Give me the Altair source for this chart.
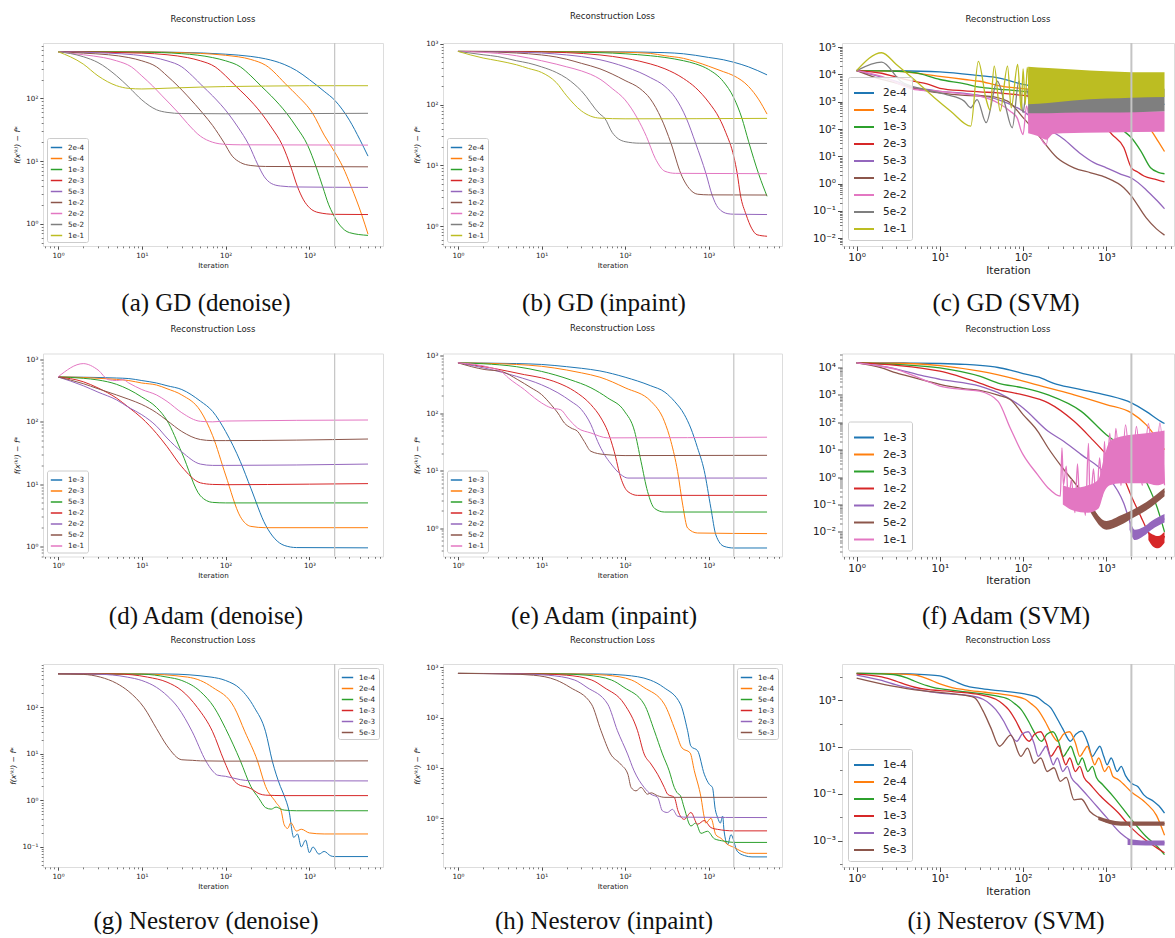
import altair as alt
import pandas as pd

TAB10 = ["#1f77b4", "#ff7f0e", "#2ca02c", "#d62728", "#9467bd",
         "#8c564b", "#e377c2", "#7f7f7f", "#bcbd22", "#17becf"]

TITLE = "Reconstruction Loss"
X_LABEL = "Iteration"
Y_LABEL = "f(x⁽ᵏ⁾) − f*"
CAPTIONS = ["(a) GD (denoise)", "(b) GD (inpaint)", "(c) GD (SVM)",
            "(d) Adam (denoise)", "(e) Adam (inpaint)", "(f) Adam (SVM)",
            "(g) Nesterov (denoise)", "(h) Nesterov (inpaint)", "(i) Nesterov (SVM)"]
MARKER_ITER = [2000]
X_MAJOR = [1, 10, 100, 1000]
MINOR_MULTS = [2, 3, 4, 5, 6, 7, 8, 9]

# ---------------- (a) GD denoise ----------------
A_DATA = {
    "2e-4": [(1, 560), (10, 555), (30, 545), (100, 510), (200, 470), (300, 430), (500, 350), (700, 280),
             (1000, 200), (1500, 130), (2000, 94), (3000, 45), (4000, 22), (5000, 12)],
    "5e-4": [(1, 560), (10, 555), (30, 540), (50, 525), (100, 490), (200, 420), (300, 340), (550, 158),
             (700, 115), (1100, 57), (1500, 26), (2000, 14), (2500, 8.1), (3150, 3.9), (4200, 1.4), (5000, 0.68)],
    "1e-3": [(1, 560), (10, 550), (30, 520), (70, 450), (100, 400), (150, 320), (200, 230), (265, 158),
             (350, 110), (540, 57), (700, 35), (950, 18), (1200, 8.1), (1440, 3.9), (1700, 2.0), (1900, 1.45),
             (2300, 0.95), (3000, 0.72), (5000, 0.65)],
    "2e-3": [(1, 560), (10, 530), (20, 500), (35, 450), (50, 400), (75, 320), (100, 230), (132, 158),
             (175, 110), (270, 57), (350, 35), (475, 18), (600, 8.1), (720, 3.9), (850, 2.4), (1000, 1.8),
             (1300, 1.5), (2000, 1.41), (5000, 1.4)],
    "5e-3": [(1, 560), (4, 530), (8, 500), (14, 450), (20, 400), (30, 320), (40, 230), (53, 158), (70, 110),
             (108, 57), (140, 35), (190, 18), (240, 9), (290, 5.6), (350, 4.4), (450, 4.0), (700, 3.86), (5000, 3.8)],
    "1e-2": [(1, 560), (2, 530), (4, 500), (7, 450), (10, 400), (15, 320), (20, 230), (27, 158), (35, 110),
             (54, 57), (70, 37), (95, 20), (120, 12), (150, 9.5), (200, 8.5), (300, 8.2), (5000, 8.1)],
    "2e-2": [(1, 560), (2, 500), (3.5, 450), (5, 400), (7.5, 320), (10, 230), (13.5, 158), (17.5, 110),
             (27, 60), (35, 40), (50, 25), (70, 20), (100, 18.5), (150, 18.2), (5000, 18)],
    "5e-2": [(1, 560), (2, 465), (3, 375), (5, 230), (7, 152), (10, 95), (15, 66), (20, 60), (30, 57.5),
             (100, 57), (5000, 58)],
    "1e-1": [(1, 560), (2, 355), (3, 230), (5, 160), (7, 145), (10, 142), (20, 146), (50, 152), (100, 155),
             (300, 158), (1000, 160), (5000, 160)],
}

# ---------------- (b) GD inpaint ----------------
B_DATA = {
    "2e-4": [(1, 755), (10, 752), (100, 740), (300, 720), (500, 690), (700, 650), (1000, 600), (1500, 550),
             (2000, 500), (3000, 420), (5000, 310)],
    "5e-4": [(1, 755), (10, 752), (50, 740), (100, 730), (200, 700), (300, 640), (500, 580), (700, 510),
             (1000, 430), (1500, 350), (2000, 300), (3000, 200), (4000, 120), (5000, 70)],
    "1e-3": [(1, 755), (10, 745), (50, 720), (100, 690), (200, 640), (300, 600), (500, 530), (700, 470),
             (1000, 380), (1500, 240), (2000, 130), (2500, 60), (3000, 25), (4000, 7), (5000, 3.1)],
    "2e-3": [(1, 755), (5, 750), (10, 740), (20, 720), (50, 660), (100, 580), (150, 520), (200, 470),
             (300, 390), (500, 270), (700, 190), (1000, 110), (1350, 59), (1600, 35), (2000, 14), (2200, 7.3),
             (2400, 3.25), (2800, 1.56), (3300, 0.9), (3800, 0.72), (5000, 0.68)],
    "5e-3": [(1, 755), (2, 750), (5, 735), (10, 710), (20, 660), (30, 620), (50, 550), (70, 490), (100, 420),
             (150, 340), (200, 280), (300, 200), (400, 130), (540, 60), (700, 23), (930, 7.3), (1100, 3.25),
             (1300, 2.0), (1700, 1.6), (2000, 1.57), (5000, 1.55)],
    "1e-2": [(1, 755), (2, 745), (3, 735), (5, 710), (7, 690), (10, 660), (15, 610), (20, 560), (30, 480),
             (50, 390), (70, 320), (100, 250), (150, 185), (200, 125), (270, 60), (355, 23), (465, 7.3),
             (600, 4.0), (740, 3.35), (1000, 3.27), (5000, 3.25)],
    "2e-2": [(1, 755), (2, 728), (3, 700), (5, 640), (7, 587), (10, 530), (15, 466), (20, 420), (30, 360),
             (50, 264), (70, 185), (100, 120), (140, 60), (180, 30), (230, 13), (300, 8), (400, 7.4), (5000, 7.3)],
    "5e-2": [(1, 755), (2, 665), (3, 620), (5, 530), (7, 484), (10, 420), (15, 340), (20, 272), (30, 169),
             (50, 70), (57, 60), (70, 35), (100, 24.6), (150, 23.2), (5000, 23)],
    "1e-1": [(1, 755), (2, 587), (3, 530), (5, 455), (7, 395), (10, 340), (15, 232), (20, 140), (30, 79),
             (50, 60), (100, 58.5), (5000, 59.5)],
}

# ---------------- (c) GD SVM ----------------
C_DATA = {
    "2e-4": [(1, 13800), (3, 13600), (10, 12400), (30, 9000), (50, 7500), (100, 4300), (200, 3000),
             (500, 2300), (1000, 1800), (2000, 1300), (5000, 800)],
    "5e-4": [(1, 13800), (3, 13000), (10, 8500), (20, 6500), (30, 5600), (50, 3900), (100, 3000), (200, 2400),
             (500, 1500), (1000, 900), (2000, 350), (3000, 150), (3500, 84), (4200, 35), (5000, 15)],
    "1e-3": [(1, 13800), (2, 13500), (3, 13000), (5, 11500), (10, 6500), (20, 4500), (30, 3400), (50, 2900),
             (100, 2400), (200, 1800), (300, 1300), (500, 800), (1000, 300), (1620, 84), (2000, 48),
             (2600, 15.6), (3400, 3.8), (4200, 2.6), (5000, 2.3)],
    "2e-3": [(1, 13800), (2, 11000), (3, 8000), (5, 5500), (7, 4500), (10, 3100), (20, 2500), (30, 2300),
             (50, 2100), (100, 1700), (200, 1200), (300, 800), (500, 400), (810, 194), (1170, 63), (1620, 21),
             (2000, 3.8), (2400, 2.6), (2830, 1.9), (4000, 1.4), (5000, 1.15)],
    "5e-3": [(1, 13800), (2, 8000), (3, 5500), (5, 3200), (7, 2800), (10, 2400), (20, 2000), (30, 1700),
             (50, 1200), (100, 450), (150, 180), (200, 100), (300, 45), (500, 12), (700, 6), (1000, 3.8),
             (1500, 2.2), (2000, 1.6), (3000, 0.6), (4000, 0.25), (5000, 0.12)],
    "1e-2": [(1, 13800), (2, 6500), (3, 4800), (5, 3000), (7, 2500), (10, 2100), (20, 1700), (37, 1600),
             (65, 1050), (100, 260), (150, 63), (256, 8.9), (408, 3.8), (650, 2.5), (1000, 1.66),
             (1620, 0.71), (2000, 0.35), (3000, 0.057), (4000, 0.022), (5000, 0.013)],
    "2e-2": [(1, 13800), (2, 8500), (5, 2800), (10, 2400), (20, 1900), (30, 1600), (50, 900), (70, 450),
             (85, 250), (100, 63), (110, 700), (125, 90), (140, 600), (160, 60), (190, 27), (210, 500)],
    "5e-2": [(1, 13800), (2, 28000), (3.4, 5600), (6.5, 2800), (12, 1800), (19.6, 1050), (23.5, 600),
             (28, 1200), (36, 170), (49, 5600), (60, 900), (74, 111), (89, 5600), (100, 400), (110, 3000),
             (120, 500)],
    "1e-1": [(1, 13800), (2, 62000), (3, 23000), (4.9, 6500), (8.6, 1400), (13.5, 450), (23.5, 128),
             (29, 30000), (36, 1200), (40, 500), (45, 20000), (53, 450), (65, 20000), (72, 600), (86, 23000),
             (95, 500), (100, 16000), (106, 800), (112, 18000), (120, 900)],
}
C_BANDS = {
    "2e-2": [(115, 70, 700), (150, 55, 650), (190, 40, 550), (230, 65, 500), (300, 70, 480), (1000, 75, 450),
             (5000, 80, 450)],
    "5e-2": [(115, 380, 4000), (200, 380, 3500), (500, 400, 3000), (1000, 400, 3000), (5000, 450, 3000)],
    "1e-1": [(115, 800, 19000), (200, 900, 17000), (400, 1100, 15000), (1000, 1300, 13000),
             (2000, 1400, 12000), (5000, 1500, 12000)],
}

# ---------------- (d) Adam denoise ----------------
D_DATA = {
    "1e-3": [(1, 525), (2, 520), (3, 515), (5, 505), (7, 495), (10, 460), (15, 420), (20, 380), (30, 330),
             (50, 215), (70, 147), (100, 70), (150, 23), (200, 8.6), (300, 2.2), (500, 1.04), (700, 0.96),
             (5000, 0.95)],
    "2e-3": [(1, 525), (2, 515), (3, 500), (5, 480), (7, 460), (10, 420), (15, 390), (20, 340), (30, 270),
             (50, 150), (70, 60), (100, 14), (150, 3.0), (200, 2.1), (300, 2.0), (5000, 2.0)],
    "5e-3": [(1, 525), (2, 500), (3, 470), (5, 400), (7, 330), (10, 250), (15, 170), (20, 105), (30, 32),
             (50, 6.5), (70, 5.1), (100, 5.0), (5000, 5.0)],
    "1e-2": [(1, 525), (2, 440), (3, 350), (5, 240), (7, 170), (10, 115), (15, 65), (20, 40), (30, 19),
             (50, 10.5), (70, 9.9), (100, 9.8), (1000, 10), (5000, 10.2)],
    "2e-2": [(1, 525), (2, 380), (3, 300), (5, 225), (7, 170), (10, 130), (15, 85), (20, 55), (30, 33),
             (50, 21), (70, 20), (100, 20), (5000, 21)],
    "5e-2": [(1, 525), (2, 410), (3, 340), (5, 270), (7, 230), (10, 190), (15, 140), (20, 105), (30, 70),
             (50, 52), (70, 50), (100, 50), (5000, 53)],
    "1e-1": [(1, 525), (2, 860), (3, 680), (4, 475), (5, 460), (6, 475), (7, 420), (10, 330), (15, 270),
             (20, 213), (30, 140), (50, 102), (70, 100), (100, 103), (5000, 107)],
}

# ---------------- (e) Adam inpaint ----------------
E_DATA = {
    "1e-3": [(1, 746), (2, 740), (5, 725), (10, 700), (20, 640), (30, 600), (50, 540), (100, 420), (200, 300),
             (300, 230), (390, 160), (512, 94), (610, 55), (735, 25), (885, 10), (1065, 2.2), (1220, 0.76),
             (1530, 0.48), (2000, 0.45), (5000, 0.45)],
    "2e-3": [(1, 746), (2, 735), (5, 700), (10, 650), (20, 560), (30, 500), (50, 420), (100, 275), (204, 160),
             (295, 72), (354, 32), (425, 9.7), (490, 2.5), (560, 1.0), (735, 0.82), (5000, 0.8)],
    "5e-3": [(1, 746), (2, 720), (5, 640), (10, 530), (22, 380), (39, 275), (62, 183), (98, 108), (130, 48),
             (155, 14.5), (186, 4.3), (225, 2.2), (295, 1.9), (5000, 1.9)],
    "1e-2": [(1, 746), (2.5, 610), (6.25, 465), (10, 410), (15.7, 335), (24.8, 240), (39, 140), (51.5, 82),
             (62, 48), (74, 21.6), (89, 7.4), (108, 4.3), (141, 3.7), (5000, 3.7)],
    "2e-2": [(1, 746), (2.5, 570), (5, 435), (10, 310), (15.7, 225), (22.5, 160), (30, 115), (39, 63),
             (47, 32), (56.5, 19), (68, 13), (89, 8.5), (108, 7.4), (5000, 7.4)],
    "5e-2": [(1, 746), (2.1, 570), (3.3, 530), (5.2, 380), (7.5, 275), (10, 210), (13, 140), (15.7, 100),
             (18.8, 67), (22.5, 55), (27, 48), (32.5, 32), (39, 21.6), (56.5, 19), (100, 18.2), (5000, 18.4)],
    "1e-1": [(1, 746), (2.5, 610), (3.3, 530), (4, 410), (6.25, 255), (8.25, 183), (10, 150), (13, 123),
             (17, 114), (20.6, 82), (27, 55), (39, 45), (62, 37), (5000, 38)],
}

# ---------------- (f) Adam SVM ----------------
F_DATA = {
    "1e-3": [(1, 14800), (5, 14500), (10, 14000), (20, 13000), (30, 12000), (50, 10000), (70, 8000),
             (100, 6000), (150, 4500), (256, 2400), (500, 1560), (1000, 980), (2000, 510), (3000, 250),
             (4500, 108), (5000, 90)],
    "2e-3": [(1, 14800), (3, 14300), (10, 11700), (30, 7300), (100, 3200), (200, 1800), (410, 1000),
             (1000, 440), (2000, 220), (3000, 82), (4000, 27), (5000, 10)],
    "5e-3": [(1, 14800), (3, 13000), (10, 9700), (30, 4800), (50, 2700), (100, 1800), (200, 1000), (500, 250),
             (1000, 35), (1620, 11.5), (2000, 6.6), (3000, 0.7), (4100, 0.074), (5000, 0.01)],
    "1e-2": [(1, 14800), (3, 12000), (10, 7300), (30, 2700), (50, 1560), (100, 1000), (200, 510), (410, 108),
             (650, 27), (1000, 6.6), (1620, 0.92), (2000, 0.2), (2600, 0.036), (3000, 0.014), (3500, 0.006),
             (4000, 0.004), (4500, 0.004), (5000, 0.007)],
    "2e-2": [(1, 14800), (2.6, 9700), (6.5, 4800), (10, 3700), (30, 2100), (50, 1200), (100, 335), (200, 47),
             (310, 20), (500, 6.6), (1000, 1.2), (1620, 0.11), (1950, 0.02), (2200, 0.008), (3000, 0.012),
             (5000, 0.03)],
    "5e-2": [(1, 14800), (2, 9700), (3, 6300), (5, 4200), (7, 3200), (10, 2400), (20, 1660), (30, 1450),
             (50, 980), (70, 680), (100, 190), (150, 47), (200, 11.5), (300, 2.1), (500, 0.3), (700, 0.064),
             (1000, 0.018), (1500, 0.027), (2000, 0.042), (3000, 0.085), (5000, 0.3)],
    "1e-1": [(1, 14800), (2, 11000), (3, 8500), (5, 4800), (7, 3200), (10, 2100), (20, 1560), (30, 1360),
             (50, 580), (70, 62), (100, 6.6), (150, 1.2), (200, 0.4), (280, 0.2), (293, 11.5), (305, 0.5),
             (330, 2.5), (350, 0.1), (380, 0.8), (420, 0.05), (450, 3), (480, 0.1), (520, 0.3), (560, 0.04),
             (610, 17), (640, 0.08), (700, 2), (760, 0.1), (830, 5), (900, 0.2), (950, 20), (1000, 0.5),
             (1100, 40), (1200, 0.6), (1300, 60), (1500, 0.5), (1700, 80), (2000, 0.6), (2300, 70),
             (2700, 0.5), (3200, 90), (3800, 0.6), (4400, 95), (5000, 0.5)],
}
F_BANDS = {
    "1e-2": [(3200, 0.005, 0.01), (3600, 0.003, 0.008), (4200, 0.0025, 0.007), (5000, 0.004, 0.01)],
    "2e-2": [(1900, 0.012, 0.03), (2200, 0.005, 0.012), (2800, 0.007, 0.015), (3500, 0.012, 0.025),
             (5000, 0.022, 0.045)],
    "5e-2": [(650, 0.05, 0.1), (1000, 0.012, 0.025), (1500, 0.018, 0.04), (2000, 0.03, 0.06),
             (3000, 0.06, 0.12), (5000, 0.2, 0.4)],
    "1e-1": [(300, 0.1, 0.5), (400, 0.06, 0.4), (600, 0.05, 0.5), (800, 0.07, 0.8), (950, 0.3, 6),
             (1100, 0.5, 20), (1500, 0.6, 30), (2000, 0.6, 35), (3000, 0.6, 40), (4000, 0.5, 45),
             (5000, 0.6, 50)],
}

# ---------------- (g) Nesterov denoise ----------------
G_DATA = {
    "1e-4": [(1, 530), (20, 525), (67, 450), (100, 380), (150, 250), (220, 100), (300, 30), (360, 7.1),
             (450, 2.0), (500, 1.27), (570, 0.6), (650, 0.16), (720, 0.19), (800, 0.1), (900, 0.14),
             (1000, 0.075), (1100, 0.1), (1300, 0.07), (1500, 0.08), (1800, 0.064), (2000, 0.062),
             (5000, 0.062)],
    "2e-4": [(1, 530), (10, 525), (35, 450), (50, 380), (70, 270), (127, 100), (170, 30), (240, 7.1),
             (300, 2.0), (400, 0.9), (460, 0.6), (500, 0.3), (550, 0.25), (600, 0.33), (700, 0.22),
             (800, 0.24), (1000, 0.2), (1500, 0.19), (5000, 0.19)],
    "5e-4": [(1, 530), (10, 520), (20, 450), (30, 380), (50, 220), (73, 100), (100, 35), (150, 7.1),
             (200, 2.0), (250, 1.1), (300, 0.7), (350, 0.65), (400, 0.72), (450, 0.66), (500, 0.62),
             (700, 0.6), (5000, 0.6)],
    "1e-3": [(1, 530), (5, 525), (11.7, 450), (20, 350), (30, 230), (46, 100), (70, 30), (96, 7.1),
             (120, 3.0), (150, 2.1), (170, 2.0), (200, 1.8), (250, 1.4), (300, 1.3), (500, 1.27), (5000, 1.27)],
    "2e-3": [(1, 530), (3, 520), (6.7, 450), (10, 380), (15, 270), (20, 180), (27, 100), (40, 30), (58, 7.1),
             (70, 4.3), (80, 3.5), (100, 3.3), (150, 2.8), (200, 2.65), (5000, 2.63)],
    "5e-3": [(1, 530), (2, 515), (3.2, 450), (5, 330), (7, 220), (10.6, 100), (15, 35), (20, 15), (30, 7.5),
             (40, 7.3), (50, 7.1), (100, 7.0), (5000, 7.1)],
}

# ---------------- (h) Nesterov inpaint ----------------
H_DATA = {
    "1e-4": [(1, 760), (50, 740), (100, 700), (200, 560), (290, 400), (460, 186), (560, 55), (614, 27),
             (738, 22), (887, 7.5), (1020, 4.7), (1110, 4.1), (1200, 1.5), (1281, 1.03), (1380, 0.8),
             (1470, 1.1), (1530, 0.56), (1690, 0.3), (1850, 0.47), (2200, 0.22), (2700, 0.18), (3300, 0.17),
             (5000, 0.17)],
    "2e-4": [(1, 760), (29, 740), (60, 700), (120, 560), (168, 400), (295, 186), (400, 55), (480, 25),
             (600, 20), (674, 8.8), (810, 2.6), (887, 1.03), (924, 0.8), (1066, 1.0), (1218, 0.47),
             (1400, 0.4), (1690, 0.3), (2040, 0.26), (2450, 0.22), (3000, 0.2), (5000, 0.2)],
    "5e-4": [(1, 760), (17, 740), (35, 700), (69, 560), (97, 400), (169, 186), (224, 55), (280, 19),
             (337, 8.8), (388, 4.1), (420, 3.2), (460, 2.8), (510, 1.6), (614, 0.7), (700, 0.8), (810, 0.5),
             (970, 0.55), (1170, 0.39), (1530, 0.35), (2000, 0.33), (5000, 0.33)],
    "1e-3": [(1, 760), (10, 740), (20, 700), (40, 560), (56, 400), (98, 186), (141, 55), (169, 19),
             (204, 12), (245, 7.5), (295, 4.1), (323, 3.0), (388, 2.6), (430, 1.4), (510, 0.95), (614, 1.3),
             (738, 0.76), (887, 0.9), (1066, 0.65), (1281, 0.6), (2000, 0.56), (5000, 0.56)],
    "2e-3": [(1, 760), (6, 740), (12, 700), (25, 560), (35, 400), (62, 186), (81, 55), (107, 19), (128, 8.8),
             (169, 4.1), (204, 3.0), (245, 2.6), (280, 1.4), (320, 1.3), (369, 1.5), (424, 1.1), (500, 1.05),
             (5000, 1.03)],
    "5e-3": [(1, 760), (4, 740), (8, 700), (15, 560), (22, 400), (39.6, 186), (51.5, 55), (67, 19), (88, 12),
             (108, 7.5), (118, 4.1), (135, 3.5), (155, 4.1), (186, 3.0), (205, 3.2), (245, 2.8), (300, 2.6),
             (5000, 2.6)],
}

# ---------------- (i) Nesterov SVM ----------------
I_DATA = {
    "1e-4": [(1, 14100), (3, 13800), (6.5, 12400), (10, 11000), (15, 6500), (20, 4200), (30, 3200),
             (50, 2600), (100, 1900), (150, 1300), (178, 800), (214, 480), (260, 150), (300, 60), (370, 17.7),
             (430, 35), (506, 48), (600, 15), (680, 4.0), (760, 7), (835, 10.8), (930, 4), (1023, 1.75),
             (1143, 3.4), (1350, 0.9), (1510, 1.5), (1700, 0.6), (2000, 0.28), (2400, 0.2), (2820, 0.09),
             (3740, 0.046), (4300, 0.03), (5000, 0.015)],
    "2e-4": [(1, 14100), (3, 13500), (5, 12000), (7, 8500), (10, 5000), (14, 3500), (20, 2800), (35, 2200),
             (70, 1600), (106, 1100), (126, 700), (150, 400), (185, 120), (210, 50), (262, 17.7), (305, 35),
             (360, 45), (425, 15), (480, 4.0), (540, 7), (590, 10.8), (660, 4), (725, 1.75), (810, 3.4),
             (955, 0.9), (1070, 1.5), (1200, 0.55), (1400, 0.4), (2000, 0.12), (3000, 0.04), (4000, 0.012),
             (5000, 0.0017)],
    "5e-4": [(1, 14100), (2, 13500), (3, 12000), (4, 9000), (5, 6500), (7, 4200), (9, 3300), (13, 2800),
             (22, 2200), (44, 1600), (67, 1100), (80, 700), (95, 400), (117, 120), (133, 50), (166, 17.7),
             (193, 35), (228, 45), (270, 15), (304, 4.0), (342, 7), (373, 10.8), (418, 4), (460, 1.75),
             (513, 3.4), (600, 0.9), (680, 1.5), (760, 0.5), (900, 0.25), (1200, 0.08), (2000, 0.008),
             (3000, 0.0015), (4000, 0.0006), (5000, 0.00025)],
    "1e-3": [(1, 13200), (2, 10000), (3, 6500), (4, 4500), (5, 3600), (7, 2900), (10, 2600), (15, 2300),
             (31, 1700), (47, 1100), (57, 700), (67, 400), (83, 120), (94, 50), (118, 17.7), (137, 35),
             (162, 45), (191, 15), (215, 4.0), (243, 7), (265, 10.8), (296, 4), (326, 1.75), (364, 3.4),
             (425, 0.9), (480, 1.5), (540, 0.5), (640, 0.25), (850, 0.08), (1400, 0.015), (2000, 0.0035),
             (3000, 0.001), (4000, 0.0005), (5000, 0.0003)],
    "2e-3": [(1, 12000), (2, 7000), (3, 4500), (5, 3000), (10, 2000), (22, 1600), (33, 1100), (40, 700),
             (47, 400), (59, 120), (67, 50), (84, 17.7), (97, 35), (115, 45), (135, 15), (152, 4.0), (172, 7),
             (188, 10.8), (210, 4), (230, 1.75), (258, 3.4), (300, 0.9), (340, 1.5), (380, 0.5), (450, 0.25),
             (600, 0.08), (1000, 0.01), (1500, 0.002), (2000, 0.001), (3000, 0.0008), (5000, 0.0008)],
    "5e-3": [(1, 8900), (2.6, 4150), (6.5, 2500), (16, 1800), (26, 1300), (33, 350), (41, 66), (52, 10.8),
             (71, 32), (94, 4.0), (113, 9), (136, 2), (163, 3.4), (195, 0.9), (235, 1.3), (280, 0.34),
             (330, 0.5), (410, 0.055), (500, 0.06), (640, 0.017), (840, 0.009), (1000, 0.0063),
             (1500, 0.0055), (5000, 0.0053)],
}
I_BANDS = {
    "2e-3": [(1800, 0.00065, 0.0012), (3000, 0.00062, 0.001), (5000, 0.00062, 0.001)],
    "5e-3": [(800, 0.0075, 0.011), (1500, 0.0043, 0.0066), (5000, 0.0043, 0.0066)],
}

PANELS = [
    dict(data=A_DATA, ydom=[0.44, 770], ymaj=[1, 10, 100], legend="bottom-left"),
    dict(data=B_DATA, ydom=[0.47, 1038], ymaj=[1, 10, 100, 1000], legend="bottom-left"),
    dict(data=C_DATA, bands=C_BANDS, ydom=[0.0052, 141000],
         ymaj=[0.01, 0.1, 1, 10, 100, 1000, 1e4, 1e5], big=True, legend="bottom-left"),
    dict(data=D_DATA, ydom=[0.69, 1250], ymaj=[1, 10, 100, 1000], legend="bottom-left"),
    dict(data=E_DATA, ydom=[0.32, 1085], ymaj=[1, 10, 100, 1000], legend="bottom-left"),
    dict(data=F_DATA, bands=F_BANDS, ydom=[0.00126, 32400],
         ymaj=[0.01, 0.1, 1, 10, 100, 1000, 1e4], big=True, legend="bottom-left"),
    dict(data=G_DATA, ydom=[0.037, 861], ymaj=[0.1, 1, 10, 100], legend="top-right"),
    dict(data=H_DATA, ydom=[0.107, 1170], ymaj=[1, 10, 100, 1000], legend="top-right"),
    dict(data=I_DATA, bands=I_BANDS, ydom=[0.0000741, 35500], ymaj=[0.001, 0.1, 10, 1000],
         yminor=[1e-4, 1e-2, 1, 100, 1e4], big=True, legend="bottom-left"),
]

SUPER = str.maketrans("0123456789-", "⁰¹²³⁴⁵⁶⁷⁸⁹⁻")


def exponent(v):
    e = 0
    while v >= 9.99:
        v /= 10.0
        e += 1
    while v < 0.999:
        v *= 10.0
        e -= 1
    return e


def decade_label_expr(values):
    expr = "''"
    for v in values:
        e = exponent(v)
        expr = "abs(log(datum.value)/LN10-(%d))<0.01 ? '10%s' : (%s)" % (e, str(e).translate(SUPER), expr)
    return expr


def minor_ticks(lo, hi):
    out = []
    for e in range(-6, 7):
        for m in MINOR_MULTS:
            v = m * (10.0 ** e)
            if lo <= v <= hi:
                out.append(v)
    return out


H = 203
CAP_Y = [260, 262, 257]
CAP_X = [163, 161, 164]


def make_panel(idx, p):
    row, col = idx // 3, idx % 3
    big = p.get("big", False)
    W = [340, 339, 332][col]
    xdom = [0.667, 6500] if big else [0.662, 7550]
    labels = list(p["data"].keys())
    cmap = dict(zip(labels, TAB10))
    recs = []
    for lab in labels:
        for x, y in p["data"][lab]:
            recs.append({"series": lab, "it": x, "loss": y})
    df = pd.DataFrame(recs)

    fs = 10.5 if big else 7.2
    tick = 4.5 if big else 3.2
    mtick = 2.5 if big else 1.8
    xs = alt.Scale(type="log", domain=xdom, nice=False)
    ys = alt.Scale(type="log", domain=p["ydom"], nice=False)

    common = dict(grid=False, domain=False, labelFlush=False, labelOverlap=False, labelFont="DejaVu Sans",
                  titleFont="DejaVu Sans", labelColor="#222", titleColor="#222", tickColor="#222",
                  tickWidth=0.8, titleFontWeight="normal")
    xaxis = alt.Axis(values=X_MAJOR, labelExpr=decade_label_expr(X_MAJOR), title=X_LABEL,
                     labelFontSize=fs, titleFontSize=fs, tickSize=tick, labelPadding=2,
                     titlePadding=3 if not big else 2, **common)
    if big:
        yaxis = alt.Axis(values=p["ymaj"], labelExpr=decade_label_expr(p["ymaj"]), title="",
                         labelFontSize=fs, tickSize=tick, labelPadding=2, **common)
    else:
        yaxis = alt.Axis(values=p["ymaj"], labelExpr=decade_label_expr(p["ymaj"]), title=Y_LABEL,
                         labelFontSize=fs, titleFontSize=7.6, titleFontStyle="italic", tickSize=tick,
                         labelPadding=2, titlePadding=4, **common)

    legend = alt.Legend(title=None, orient=p["legend"], offset=6 if big else 4,
                        fillColor="rgba(255,255,255,0.85)", strokeColor="#cccccc", cornerRadius=2,
                        padding=5 if big else 3, symbolType="stroke", symbolStrokeWidth=2 if big else 1.5,
                        symbolSize=400 if big else 130, labelFontSize=fs, labelFont="DejaVu Sans",
                        labelColor="#222", rowPadding=0 if big else 1, labelOffset=8 if big else 5,
                        labelLimit=0)

    layers = []
    lines = alt.Chart(df).mark_line(strokeWidth=1.3 if big else 1.0, interpolate="monotone", clip=True).encode(
        x=alt.X("it:Q", scale=xs, axis=xaxis),
        y=alt.Y("loss:Q", scale=ys, axis=yaxis),
        color=alt.Color("series:N", scale=alt.Scale(domain=labels, range=[cmap[l] for l in labels]),
                        legend=legend),
    )
    layers.append(lines)

    for lab, pts in p.get("bands", {}).items():
        bdf = pd.DataFrame(pts, columns=["it", "lo", "hi"])
        band = alt.Chart(bdf).mark_area(color=cmap[lab], opacity=1, interpolate="monotone", clip=True).encode(
            x=alt.X("it:Q", scale=xs, axis=None),
            y=alt.Y("lo:Q", scale=ys, axis=None),
            y2="hi:Q",
        )
        layers.append(band)

    xminor = minor_ticks(xdom[0], xdom[1])
    vline = alt.Chart(pd.DataFrame({"it": MARKER_ITER})).mark_rule(
        color="#c4c4c4", strokeWidth=2 if big else 1.2).encode(
        x=alt.X("it:Q", scale=xs, axis=alt.Axis(orient="bottom", values=xminor, labels=False, tickSize=mtick,
                                                 title="", grid=False, domain=False, tickColor="#222",
                                                 tickWidth=0.6)),
    )
    layers.append(vline)

    yminor = p.get("yminor", minor_ticks(p["ydom"][0], p["ydom"][1]))
    ym = alt.Chart(pd.DataFrame({"loss": yminor})).mark_point(opacity=0, size=1).encode(
        y=alt.Y("loss:Q", scale=ys, axis=alt.Axis(orient="left", values=yminor, labels=False, tickSize=mtick,
                                                   title="", grid=False, domain=False, tickColor="#222",
                                                   tickWidth=0.6)),
    )
    layers.append(ym)

    cap = alt.Chart(pd.DataFrame({"cap": [CAPTIONS[idx]]})).mark_text(
        font="Liberation Serif", fontSize=25, align="center", baseline="middle", color="#111").encode(
        x=alt.value(CAP_X[col]), y=alt.value(CAP_Y[row]), text="cap:N")
    layers.append(cap)

    return alt.layer(*layers).resolve_axis(x="independent", y="independent").properties(
        width=W, height=H,
        title=alt.TitleParams(TITLE, fontSize=8.5, font="DejaVu Sans", fontWeight="normal", color="#222",
                              offset=19, anchor="middle"),
    )


panels = [make_panel(i, p) for i, p in enumerate(PANELS)]
chart = alt.concat(*panels, columns=3, spacing={"row": 107.5, "column": 60}, bounds="flush", align="each")
chart = chart.resolve_scale(x="independent", y="independent", color="independent").resolve_legend(
    color="independent")
chart = chart.properties(
    padding={"left": 9, "top": 11, "right": 0, "bottom": 0}
).configure_view(stroke="#222", strokeWidth=1).configure(background="white")

chart.save("out.html", embed_options={"renderer": "svg", "actions": False})
